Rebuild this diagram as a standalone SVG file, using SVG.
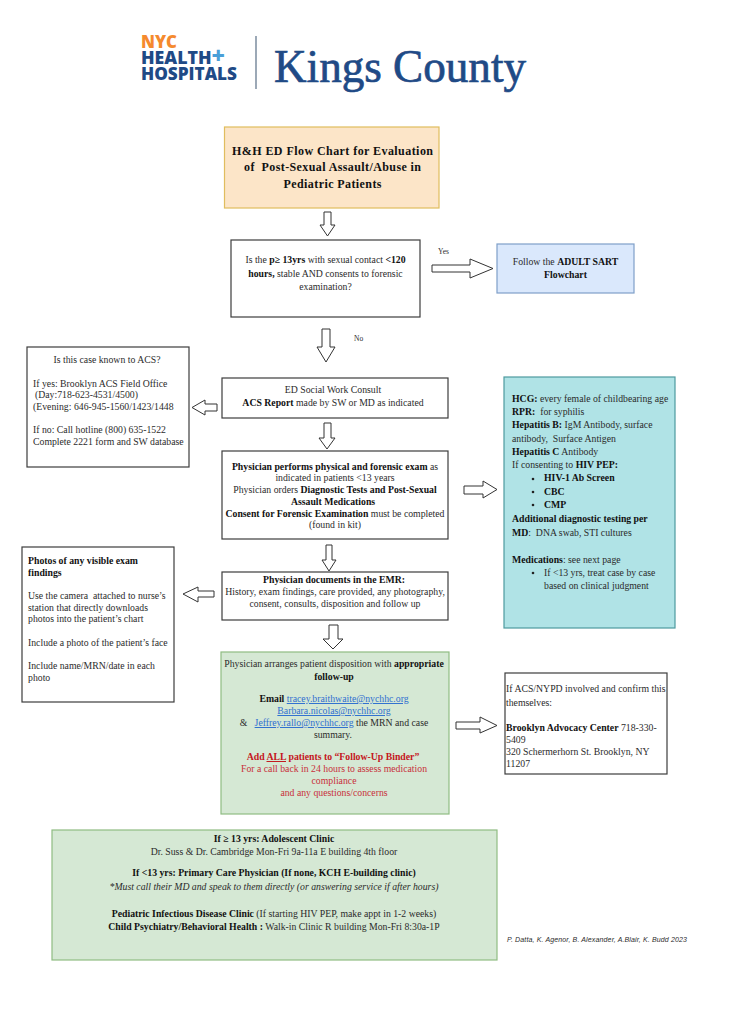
<svg xmlns="http://www.w3.org/2000/svg" width="729" height="1024" viewBox="0 0 729 1024">
<style>
text{font-family:"Liberation Serif","Times New Roman",serif;font-size:9.750px;fill:#2b2b2b}
.c{text-anchor:middle}
.b{font-weight:bold;fill:#111}
.box{fill:#fff;stroke:#3c3c3c;stroke-width:1.2}
.arrow{fill:#fff;stroke:#333;stroke-width:1}
.link{fill:#2f6fd0;text-decoration:underline}
.red{fill:#c8303a}
.redb{fill:#c4161c;font-weight:bold}
.logo{font-family:"Open Sans","Liberation Sans",sans-serif;font-weight:800;font-size:17px;fill:#1f4a86}
</style>
<rect width="729" height="1024" fill="#fff"/>
<g id="logo">
<text class="logo" x="141" y="48" style="fill:#f58a2e" textLength="36" lengthAdjust="spacingAndGlyphs">NYC</text>
<text class="logo" x="141" y="64" textLength="84" lengthAdjust="spacingAndGlyphs">HEALTH<tspan fill="#4a9fd8" style="font-size:22px">+</tspan></text>
<text class="logo" x="141" y="80" textLength="96" lengthAdjust="spacingAndGlyphs">HOSPITALS</text>
<line x1="256" y1="36" x2="256" y2="89" stroke="#5a6f86" stroke-width="1.2"/>
<text x="274" y="82" style="font-size:46px;fill:#1f4a86;stroke:#1f4a86;stroke-width:.7" textLength="252" lengthAdjust="spacingAndGlyphs">Kings County</text>
</g>
<g id="connectors">
<polygon class="arrow" points="324,212 331,212 331,225 335,225 327.5,236 320,225 324,225"/>
<polygon class="arrow" points="432,265 470,265 470,259 493,268.500 470,278 470,272 432,272"/>
<polygon class="arrow" points="322,329 330,329 330,347 335,347 326,362 317,347 322,347"/>
<polygon class="arrow" points="217,404 205,404 205,400 192,407.500 205,415 205,411 217,411"/>
<polygon class="arrow" points="324,423 331,423 331,438 335,438 327,449 319,438 324,438"/>
<polygon class="arrow" points="464,486 483,486 483,481 497,489.500 483,498 483,494 464,494"/>
<polygon class="arrow" points="326,545 332,545 332,560 336,560 329,571 322,560 326,560"/>
<polygon class="arrow" points="214,591 198,591 198,587 183,594 198,602 198,597 214,597"/>
<polygon class="arrow" points="329,625 338,625 338,639 343,639 333,649 323,639 329,639"/>
<polygon class="arrow" points="456,722 480,722 480,717 497,725.500 480,733 480,729 456,729"/>
<text x="438" y="254" style="font-size:7.500px">Yes</text>
<text x="354" y="341" style="font-size:7.500px">No</text>
</g>
<g id="title">
<rect x="224.500" y="127" width="214.500" height="81" fill="#fce5c8" stroke="#e0bd5e" stroke-width="1.200"/>
<text class="c b" x="332.500" y="155" style="font-size:12px" textLength="201">H&amp;H ED Flow Chart for Evaluation</text>
<text class="c b" x="332.500" y="171" style="font-size:12px" textLength="177" xml:space="preserve">of  Post-Sexual Assault/Abuse in</text>
<text class="c b" x="332.500" y="188" style="font-size:12px" textLength="98">Pediatric Patients</text>
</g>
<g id="question">
<rect class="box" x="231" y="240" width="189" height="77"/>
<text class="c" x="325.500" y="263">Is the <tspan class="b">p≥ 13yrs</tspan> with sexual contact <tspan class="b">&lt;120</tspan></text>
<text class="c" x="325.500" y="277"><tspan class="b">hours,</tspan> stable AND consents to forensic</text>
<text class="c" x="325.500" y="290">examination?</text>
</g>
<g id="adult-sart">
<rect x="497" y="244" width="137" height="49" fill="#dae8fc" stroke="#7f9fc8" stroke-width="1.200"/>
<text class="c" x="565.500" y="265">Follow the <tspan class="b">ADULT SART</tspan></text>
<text class="c b" x="565.500" y="278">Flowchart</text>
</g>
<g id="acs">
<rect class="box" x="27" y="347" width="162" height="120"/>
<text class="c" x="107" y="363">Is this case known to ACS?</text>
<text x="33" y="387">If yes: Brooklyn ACS Field Office</text>
<text x="35" y="398">(Day:718-623-4531/4500)</text>
<text x="33" y="410">(Evening: 646-945-1560/1423/1448</text>
<text x="33" y="433">If no: Call hotline (800) 635-1522</text>
<text x="33" y="445">Complete 2221 form and SW database</text>
</g>
<g id="social-work">
<rect class="box" x="222" y="378" width="226" height="40"/>
<text class="c" x="333" y="393">ED Social Work Consult</text>
<text class="c" x="333" y="406"><tspan class="b">ACS Report</tspan> made by SW or MD as indicated</text>
</g>
<g id="exam">
<rect class="box" x="222" y="451" width="226" height="88"/>
<text class="c" x="335" y="470"><tspan class="b">Physician performs physical and forensic exam</tspan> as</text>
<text class="c" x="335" y="481">indicated in patients &lt;13 years</text>
<text class="c" x="335" y="493">Physician orders <tspan class="b">Diagnostic Tests and Post-Sexual</tspan></text>
<text class="c b" x="333" y="505">Assault Medications</text>
<text class="c" x="335" y="517"><tspan class="b">Consent for Forensic Examination</tspan> must be completed</text>
<text class="c" x="335" y="528">(found in kit)</text>
</g>
<g id="tests">
<rect x="504" y="377" width="171" height="251" fill="#b0e3e6" stroke="#4e9a9f" stroke-width="1.200"/>
<text x="512" y="402"><tspan class="b">HCG:</tspan> every female of childbearing age</text>
<text x="512" y="415" xml:space="preserve"><tspan class="b">RPR:</tspan>  for syphilis</text>
<text x="512" y="428" xml:space="preserve"><tspan class="b">Hepatitis B:</tspan> IgM Antibody, surface</text>
<text x="512" y="442" xml:space="preserve">antibody,  Surface Antigen</text>
<text x="512" y="455"><tspan class="b">Hepatitis C</tspan> Antibody</text>
<text x="512" y="468">If consenting to <tspan class="b">HIV PEP:</tspan></text>
<circle cx="533" cy="479" r="1.300" fill="#222"/><text class="b" x="544" y="481">HIV-1 Ab Screen</text>
<circle cx="533" cy="492" r="1.300" fill="#222"/><text class="b" x="544" y="495">CBC</text>
<circle cx="533" cy="505" r="1.300" fill="#222"/><text class="b" x="544" y="508">CMP</text>
<text class="b" x="512" y="522">Additional diagnostic testing per</text>
<text x="512" y="536" xml:space="preserve"><tspan class="b">MD</tspan>:  DNA swab, STI cultures</text>
<text x="512" y="563"><tspan class="b">Medications</tspan>: see next page</text>
<circle cx="533" cy="573" r="1.300" fill="#222"/><text x="544" y="576">If &lt;13 yrs, treat case by case</text>
<text x="544" y="589">based on clinical judgment</text>
</g>
<g id="photos">
<rect class="box" x="22" y="547" width="152" height="155"/>
<text class="b" x="28" y="564">Photos of any visible exam</text>
<text class="b" x="28" y="576">findings</text>
<text x="28" y="599" xml:space="preserve">Use the camera  attached to nurse’s</text>
<text x="28" y="611">station that directly downloads</text>
<text x="28" y="622">photos into the patient’s chart</text>
<text x="28" y="646">Include a photo of the patient’s face</text>
<text x="28" y="669">Include name/MRN/date in each</text>
<text x="28" y="681">photo</text>
</g>
<g id="emr">
<rect class="box" x="222" y="572" width="226" height="48"/>
<text class="c b" x="334" y="583">Physician documents in the EMR:</text>
<text class="c" x="335" y="595">History, exam findings, care provided, any photography,</text>
<text class="c" x="335" y="607">consent, consults, disposition and follow up</text>
</g>
<g id="disposition">
<rect x="221" y="652" width="228" height="162" fill="#d5e8d4" stroke="#8fbc82" stroke-width="1.200"/>
<text class="c" x="334" y="667">Physician arranges patient disposition with <tspan class="b">appropriate</tspan></text>
<text class="c b" x="334" y="680">follow-up</text>
<text class="c" x="334" y="702"><tspan class="b">Email</tspan> <tspan class="link">tracey.braithwaite@nychhc.org</tspan></text>
<text class="c link" x="334" y="714">Barbara.nicolas@nychhc.org</text>
<text class="c" x="334" y="726" xml:space="preserve">&amp;   <tspan class="link">Jeffrey.rallo@nychhc.org</tspan> the MRN and case</text>
<text class="c" x="333" y="738">summary.</text>
<text class="c redb" x="333" y="760">Add <tspan text-decoration="underline">ALL</tspan> patients to “Follow-Up Binder”</text>
<text class="c red" x="334" y="772">For a call back in 24 hours to assess medication</text>
<text class="c red" x="334" y="784">compliance</text>
<text class="c red" x="334" y="796">and any questions/concerns</text>
</g>
<g id="advocacy">
<rect class="box" x="505" y="673" width="162" height="101"/>
<text x="506" y="692">If ACS/NYPD involved and confirm this</text>
<text x="506" y="706">themselves:</text>
<text x="506" y="731"><tspan class="b">Brooklyn Advocacy Center</tspan> 718-330-</text>
<text x="506" y="743">5409</text>
<text x="506" y="755">320 Schermerhorn St. Brooklyn, NY</text>
<text x="506" y="767">11207</text>
</g>
<g id="clinics">
<rect x="52" y="830" width="445" height="130" fill="#d5e8d4" stroke="#8fbc82" stroke-width="1.200"/>
<text class="c b" x="274" y="842">If ≥ 13 yrs: Adolescent Clinic</text>
<text class="c" x="274" y="855">Dr. Suss &amp; Dr. Cambridge Mon-Fri 9a-11a E building 4th floor</text>
<text class="c b" x="274" y="876">If &lt;13 yrs: Primary Care Physician (If none, KCH E-building clinic)</text>
<text class="c" x="274" y="890" style="font-style:italic">*Must call their MD and speak to them directly (or answering service if after hours)</text>
<text class="c" x="274" y="917"><tspan class="b">Pediatric Infectious Disease Clinic</tspan> (If starting HIV PEP, make appt in 1-2 weeks)</text>
<text class="c" x="274" y="930"><tspan class="b">Child Psychiatry/Behavioral Health :</tspan> Walk-in Clinic R building Mon-Fri 8:30a-1P</text>
</g>
<g id="credit">
<text x="507" y="942" style="font-family:'Liberation Sans',Arial,sans-serif;font-style:italic;font-size:7px" textLength="180">P. Datta, K. Agenor, B. Alexander, A.Blair, K. Budd 2023</text>
</g>
</svg>
